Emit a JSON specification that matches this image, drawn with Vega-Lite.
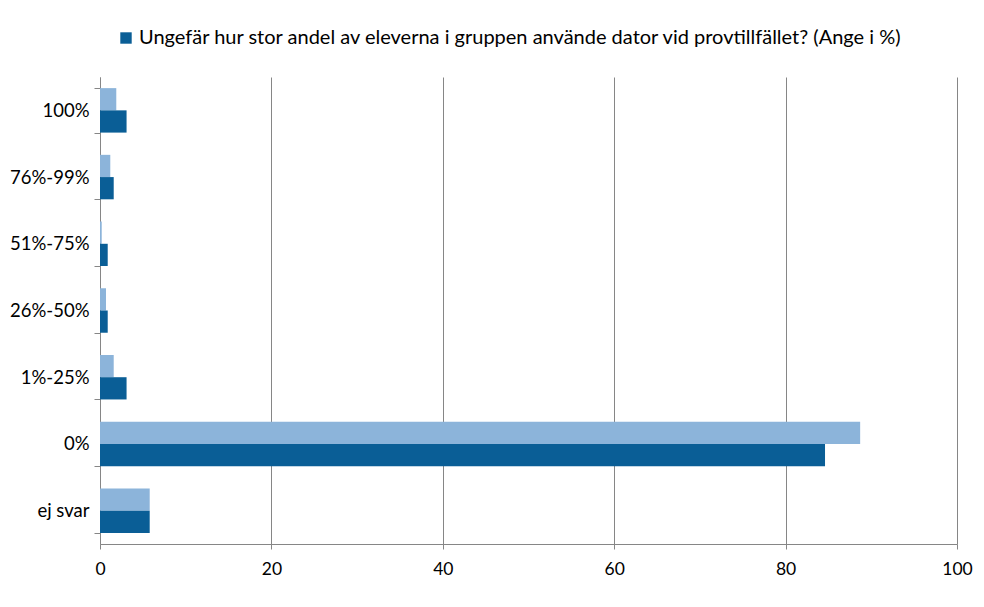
{
  "$schema": "https://vega.github.io/schema/vega-lite/v6.json",
  "width": 857,
  "height": 467,
  "autosize": "none",
  "padding": {"left": 100, "top": 77, "right": 27, "bottom": 63},
  "background": "white",
  "data": {
    "values": [
      {"kategori": "100%", "serie": "tidigare", "andel": 1.9},
      {"kategori": "100%", "serie": "Ungefär hur stor andel av eleverna i gruppen använde dator vid provtillfället? (Ange i %)", "andel": 3.1},
      {"kategori": "76%-99%", "serie": "tidigare", "andel": 1.2},
      {"kategori": "76%-99%", "serie": "Ungefär hur stor andel av eleverna i gruppen använde dator vid provtillfället? (Ange i %)", "andel": 1.6},
      {"kategori": "51%-75%", "serie": "tidigare", "andel": 0.2},
      {"kategori": "51%-75%", "serie": "Ungefär hur stor andel av eleverna i gruppen använde dator vid provtillfället? (Ange i %)", "andel": 0.9},
      {"kategori": "26%-50%", "serie": "tidigare", "andel": 0.7},
      {"kategori": "26%-50%", "serie": "Ungefär hur stor andel av eleverna i gruppen använde dator vid provtillfället? (Ange i %)", "andel": 0.9},
      {"kategori": "1%-25%", "serie": "tidigare", "andel": 1.6},
      {"kategori": "1%-25%", "serie": "Ungefär hur stor andel av eleverna i gruppen använde dator vid provtillfället? (Ange i %)", "andel": 3.1},
      {"kategori": "0%", "serie": "tidigare", "andel": 88.7},
      {"kategori": "0%", "serie": "Ungefär hur stor andel av eleverna i gruppen använde dator vid provtillfället? (Ange i %)", "andel": 84.6},
      {"kategori": "ej svar", "serie": "tidigare", "andel": 5.8},
      {"kategori": "ej svar", "serie": "Ungefär hur stor andel av eleverna i gruppen använde dator vid provtillfället? (Ange i %)", "andel": 5.8}
    ]
  },
  "mark": {"type": "bar"},
  "encoding": {
    "y": {
      "field": "kategori",
      "type": "nominal",
      "sort": ["100%", "76%-99%", "51%-75%", "26%-50%", "1%-25%", "0%", "ej svar"],
      "scale": {"paddingInner": 0.3333, "paddingOuter": 0.1667},
      "axis": {
        "title": null,
        "tickBand": "extent",
        "domainColor": "#868686",
        "tickColor": "#868686",
        "tickSize": 6,
        "labelFont": "Lato",
        "labelFontSize": 18.5,
        "labelColor": "#000000",
        "labelPadding": 5,
        "grid": false
      }
    },
    "yOffset": {
      "field": "serie",
      "type": "nominal",
      "scale": {"domain": ["tidigare", "Ungefär hur stor andel av eleverna i gruppen använde dator vid provtillfället? (Ange i %)"], "paddingInner": 0, "paddingOuter": 0}
    },
    "x": {
      "field": "andel",
      "type": "quantitative",
      "scale": {"domain": [0, 100], "nice": false},
      "axis": {
        "title": null,
        "values": [0, 20, 40, 60, 80, 100],
        "grid": true,
        "gridColor": "#868686",
        "domainColor": "#868686",
        "tickColor": "#868686",
        "tickSize": 5,
        "labelFont": "Lato",
        "labelFontSize": 17.5,
        "labelColor": "#000000",
        "labelPadding": 11,
        "labelFlush": false
      }
    },
    "color": {
      "field": "serie",
      "type": "nominal",
      "scale": {"domain": ["tidigare", "Ungefär hur stor andel av eleverna i gruppen använde dator vid provtillfället? (Ange i %)"], "range": ["#8CB4DA", "#0A5E96"]},
      "legend": {
        "title": null,
        "values": ["Ungefär hur stor andel av eleverna i gruppen använde dator vid provtillfället? (Ange i %)"],
        "orient": "none",
        "legendX": 16,
        "legendY": -49,
        "symbolType": "square",
        "symbolSize": 130,
        "symbolStrokeWidth": 0,
        "labelFont": "Lato",
        "labelFontSize": 20,
        "labelColor": "#000000",
        "labelOffset": 3,
        "labelLimit": 900
      }
    }
  },
  "config": {"view": {"stroke": null}}
}
